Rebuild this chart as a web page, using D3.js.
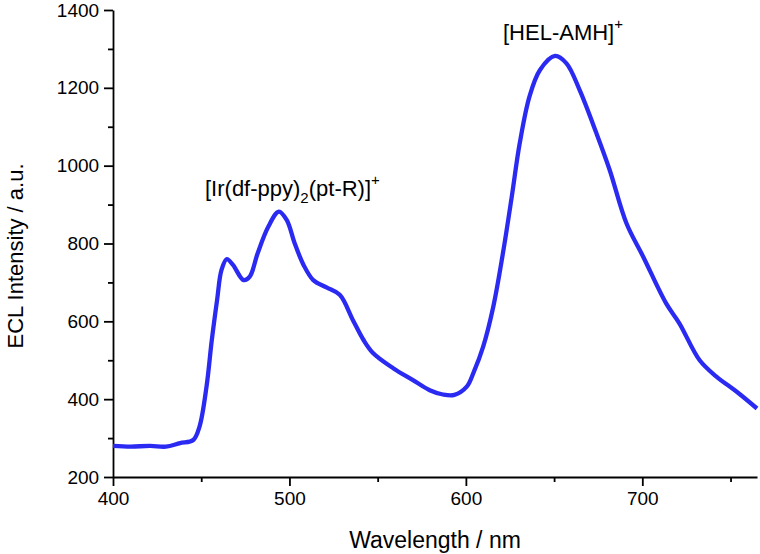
<!DOCTYPE html>
<html>
<head>
<meta charset="utf-8">
<script src="https://cdn.jsdelivr.net/npm/d3@7"></script>
<style>
  body { margin: 0; background: #fff; }
  text { font-family: "Liberation Sans", Arial, sans-serif; fill: #000; }
</style>
</head>
<body>
<script>
// spectrum
var wavelength = [400, 410, 421, 430, 438, 445.5, 449, 453, 456, 459, 461.5, 464.5, 468, 474, 477.5,
    482, 488, 494, 498.5, 503, 508, 513.5, 521, 528.5, 536, 542, 547.5, 559, 570, 579.5,
    587, 593.5, 600.5, 604.5, 609.8, 615.5, 621, 626, 630.5, 636, 642, 650.5, 657, 664.5,
    674, 681.5, 691, 700.5, 713.5, 721, 732.5, 742, 753.5, 765];
var intensity = [280, 278, 280, 278, 287, 295, 329, 432, 552, 655, 732, 760, 745, 706, 715,
    775, 843, 882, 860, 800, 745, 706, 687, 668, 603, 552, 518, 479, 449, 423,
    412, 411, 432, 470, 535, 637, 775, 920, 1057, 1177, 1246, 1282, 1263, 1194,
    1083, 989, 852, 766, 646, 595, 500, 458, 419, 376];

var xMajor = [400, 500, 600, 700];
var xMinor = [450, 550, 650, 750];
var yMajor = [200, 400, 600, 800, 1000, 1200, 1400];
var yMinor = [300, 500, 700, 900, 1100, 1300];

var lineColor = '#2a2af2';

var svg = d3.select('body').append('svg')
    .attr('width', 760)
    .attr('height', 554);

var x = d3.scaleLinear().domain([400, 765]).range([113, 757]);
var y = d3.scaleLinear().domain([200, 1400]).range([477, 10]);

// x axis
var gx = svg.append('g').attr('transform', 'translate(0,' + y(200) + ')');
gx.call(d3.axisBottom(x).tickValues(xMajor).tickSize(9).tickSizeOuter(0).tickFormat(d3.format('d')));
gx.append('g').call(d3.axisBottom(x).tickValues(xMinor).tickSize(5).tickSizeOuter(0).tickFormat(''))
    .select('.domain').remove();

// y axis
var gy = svg.append('g').attr('transform', 'translate(' + x(400) + ',0)');
gy.call(d3.axisLeft(y).tickValues(yMajor).tickSize(9).tickSizeOuter(0).tickFormat(d3.format('d')));
gy.append('g').call(d3.axisLeft(y).tickValues(yMinor).tickSize(5).tickSizeOuter(0).tickFormat(''))
    .select('.domain').remove();

svg.selectAll('.domain').attr('stroke', '#000').attr('stroke-width', 1.8);
svg.selectAll('.tick line').attr('stroke', '#000').attr('stroke-width', 1.8);
svg.selectAll('.tick text')
    .attr('font-size', 19)
    .attr('font-family', '"Liberation Sans", Arial, sans-serif')
    .attr('fill', '#000');
gx.selectAll('.tick text').attr('dy', '0.85em');
gy.selectAll('.tick text').attr('dx', '-0.1em');

// spectrum
var pts = wavelength.map(function (d, i) { return [d, intensity[i]]; });
svg.append('path')
    .datum(pts)
    .attr('fill', 'none')
    .attr('stroke', lineColor)
    .attr('stroke-width', 4.3)
    .attr('stroke-linejoin', 'round')
    .attr('d', d3.line()
        .x(function (d) { return x(d[0]); })
        .y(function (d) { return y(d[1]); })
        .curve(d3.curveCatmullRom.alpha(0.5)));

// axis titles
svg.append('text')
    .attr('x', 435)
    .attr('y', 548)
    .attr('text-anchor', 'middle')
    .attr('font-size', 23)
    .text('Wavelength / nm');

svg.append('text')
    .attr('transform', 'translate(23,256) rotate(-90)')
    .attr('text-anchor', 'middle')
    .attr('font-size', 22)
    .text('ECL Intensity / a.u.');

// peak labels
var lab1 = svg.append('text').attr('x', 205).attr('y', 196).attr('font-size', 22);
lab1.append('tspan').text('[Ir(df-ppy)');
lab1.append('tspan').attr('font-size', 15).attr('dy', 7).text('2');
lab1.append('tspan').attr('dy', -7).text('(pt-R)]');
lab1.append('tspan').attr('font-size', 15).attr('dy', -11).text('+');

var lab2 = svg.append('text').attr('x', 503).attr('y', 40).attr('font-size', 22);
lab2.append('tspan').text('[HEL-AMH]');
lab2.append('tspan').attr('font-size', 15).attr('dy', -11).text('+');
</script>
</body>
</html>
